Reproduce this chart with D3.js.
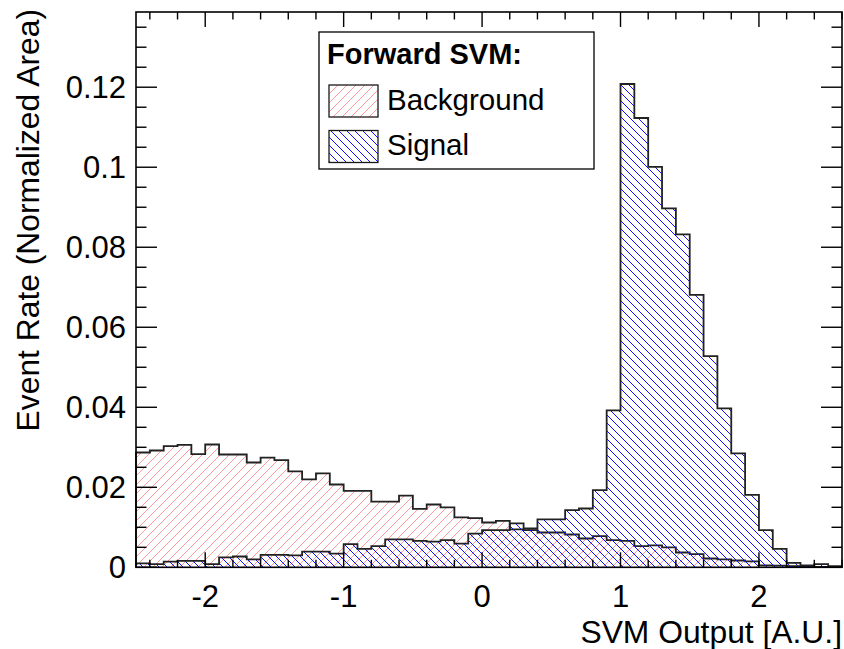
<!DOCTYPE html>
<html>
<head>
<meta charset="utf-8">
<script src="https://cdn.jsdelivr.net/npm/d3@7"></script>
<style>
  html, body { margin: 0; padding: 0; background: #fff; }
  svg { display: block; font-family: "Liberation Sans", Arial, Helvetica, sans-serif; }
</style>
</head>
<body>
<svg id="chart" width="844" height="649"></svg>
<script>
// ---- data ----
const binStart = -2.5;
const binWidth = 0.1;
const background = [
  0.0287, 0.0292, 0.0303, 0.0306, 0.0283, 0.0307, 0.0282, 0.0282, 0.0262, 0.0274,
  0.0268, 0.0240, 0.0220, 0.0235, 0.0207, 0.0191, 0.0191, 0.0164, 0.0164, 0.0179,
  0.0146, 0.0157, 0.0150, 0.0125, 0.0123, 0.0112, 0.0116, 0.0095, 0.0093, 0.0087,
  0.0087, 0.0082, 0.0072, 0.0078, 0.0068, 0.0066, 0.0053, 0.0055, 0.0050, 0.0037,
  0.0033, 0.0022, 0.0020, 0.0017, 0.0015, 0.0005, 0.0004, 0.0003, 0.0002, 0.0001,
  0.0001
];
const signal = [
  0.0010, 0.0008, 0.0014, 0.0016, 0.0016, 0.0008, 0.0025, 0.0027, 0.0020, 0.0031,
  0.0031, 0.0030, 0.0039, 0.0039, 0.0034, 0.0058, 0.0046, 0.0053, 0.0070, 0.0070,
  0.0066, 0.0064, 0.0068, 0.0059, 0.0084, 0.0093, 0.0093, 0.0110, 0.0097, 0.0120,
  0.0120, 0.0143, 0.0147, 0.0193, 0.0392, 0.1208, 0.1123, 0.1001, 0.0897, 0.0832,
  0.0681, 0.0528, 0.0397, 0.0285, 0.0181, 0.0093, 0.0046, 0.0011, 0.0005, 0.0008,
  0.0003
];
const xMajorTicks = [-2, -1, 0, 1, 2];
const xTickLabels = ["-2", "-1", "0", "1", "2"];
const yMajorTicks = [0, 0.02, 0.04, 0.06, 0.08, 0.1, 0.12];
const yTickLabels = ["0", "0.02", "0.04", "0.06", "0.08", "0.1", "0.12"];
const xDomain = [-2.5, 2.6];
const yDomain = [0, 0.1388];
const legendTitle = "Forward SVM:";
const seriesNames = ["Background", "Signal"];
const xTitle = "SVM Output [A.U.]";
const yTitle = "Event Rate (Normalized Area)";

// ---- layout ----
const L = 136, R = 842, T = 12, B = 567.3;
const svg = d3.select("#chart");
const x = d3.scaleLinear().domain(xDomain).range([L, R]);
const y = d3.scaleLinear().domain(yDomain).range([B, T]);

// patterns
const defs = svg.append("defs");
function hatch(id, color, spacing, dir, width) {
  const p = defs.append("pattern").attr("id", id)
    .attr("patternUnits", "userSpaceOnUse")
    .attr("width", spacing).attr("height", spacing);
  if (dir > 0) {
    p.append("path").attr("d", `M0,${spacing} L${spacing},0 M${-spacing/2},${spacing/2} L${spacing/2},${-spacing/2} M${spacing/2},${spacing*1.5} L${spacing*1.5},${spacing/2}`)
      .attr("stroke", color).attr("stroke-width", width).attr("fill", "none");
  } else {
    p.append("path").attr("d", `M0,0 L${spacing},${spacing} M${-spacing/2},${spacing/2} L${spacing/2},${spacing*1.5} M${spacing/2},${-spacing/2} L${spacing*1.5},${spacing/2}`)
      .attr("stroke", color).attr("stroke-width", width).attr("fill", "none");
  }
}
hatch("hatchBkg", "#ff9a9a", 9, 1, 1);
hatch("hatchSig", "#1010ff", 8, -1, 1);

function histPath(vals) {
  const p = d3.path();
  p.moveTo(x(binStart), y(0));
  vals.forEach((v, i) => {
    const x0 = x(binStart + i * binWidth), x1 = x(binStart + (i + 1) * binWidth);
    p.lineTo(x0, y(v));
    p.lineTo(x1, y(v));
  });
  p.lineTo(x(binStart + vals.length * binWidth), y(0));
  return p.toString();
}

const plot = svg.append("g");
plot.append("path").attr("d", histPath(background) + "Z")
  .attr("fill", "url(#hatchBkg)").attr("stroke", "none");
plot.append("path").attr("d", histPath(background))
  .attr("fill", "none").attr("stroke", "#222").attr("stroke-width", 1.8);
plot.append("path").attr("d", histPath(signal) + "Z")
  .attr("fill", "url(#hatchSig)").attr("stroke", "none");
plot.append("path").attr("d", histPath(signal))
  .attr("fill", "none").attr("stroke", "#222").attr("stroke-width", 1.8);

// frame
svg.append("rect").attr("x", L).attr("y", T).attr("width", R - L).attr("height", B - T)
  .attr("fill", "none").attr("stroke", "#000").attr("stroke-width", 1.6);

// ticks
const ax = svg.append("g").attr("stroke", "#000").attr("stroke-width", 1.4);
const xMinor = d3.range(-24, 27, 2).map(d => d / 10).filter(d => xMajorTicks.indexOf(d) < 0);
xMajorTicks.forEach(t => {
  ax.append("line").attr("x1", x(t)).attr("x2", x(t)).attr("y1", B).attr("y2", B - 15);
  ax.append("line").attr("x1", x(t)).attr("x2", x(t)).attr("y1", T).attr("y2", T + 15);
});
xMinor.forEach(t => {
  ax.append("line").attr("x1", x(t)).attr("x2", x(t)).attr("y1", B).attr("y2", B - 7.5);
  ax.append("line").attr("x1", x(t)).attr("x2", x(t)).attr("y1", T).attr("y2", T + 7.5);
});
const yMinor = d3.range(1, 28).map(d => d * 0.005).filter(d => d % 0.02 > 0.001 && 0.02 - (d % 0.02) > 0.001);
yMajorTicks.forEach(t => {
  ax.append("line").attr("x1", L).attr("x2", L + 21).attr("y1", y(t)).attr("y2", y(t));
  ax.append("line").attr("x1", R).attr("x2", R - 21).attr("y1", y(t)).attr("y2", y(t));
});
yMinor.forEach(t => {
  ax.append("line").attr("x1", L).attr("x2", L + 10.5).attr("y1", y(t)).attr("y2", y(t));
  ax.append("line").attr("x1", R).attr("x2", R - 10.5).attr("y1", y(t)).attr("y2", y(t));
});

// tick labels
const fs = 31;
yMajorTicks.forEach((t, i) => {
  svg.append("text").attr("x", 126).attr("y", y(t)).attr("dy", "0.36em")
    .attr("text-anchor", "end").attr("font-size", fs).text(yTickLabels[i]);
});
xMajorTicks.forEach((t, i) => {
  svg.append("text").attr("x", x(t)).attr("y", 607)
    .attr("text-anchor", "middle").attr("font-size", fs).text(xTickLabels[i]);
});

// axis titles
const tfs = 31.8;
svg.append("text").attr("x", R).attr("y", 643).attr("text-anchor", "end")
  .attr("font-size", tfs).text(xTitle);
svg.append("text").attr("transform", `translate(39,9) rotate(-90)`)
  .attr("text-anchor", "end").attr("font-size", tfs).text(yTitle);

// legend
const lg = svg.append("g");
lg.append("rect").attr("x", 319).attr("y", 32).attr("width", 275).attr("height", 137)
  .attr("fill", "#fff").attr("stroke", "#000").attr("stroke-width", 1.3);
lg.append("text").attr("x", 327).attr("y", 64).attr("font-size", 29).attr("font-weight", "bold")
  .text(legendTitle);
const entries = [{ y: 85, fill: "url(#hatchBkg)" }, { y: 130.5, fill: "url(#hatchSig)" }];
entries.forEach((e, i) => {
  lg.append("rect").attr("x", 329).attr("y", e.y).attr("width", 49).attr("height", 32)
    .attr("fill", e.fill).attr("stroke", "#1a1a1a").attr("stroke-width", 1.3);
  lg.append("text").attr("x", 387).attr("y", e.y + 24.5).attr("font-size", 29.5).text(seriesNames[i]);
});
</script>
</body>
</html>
